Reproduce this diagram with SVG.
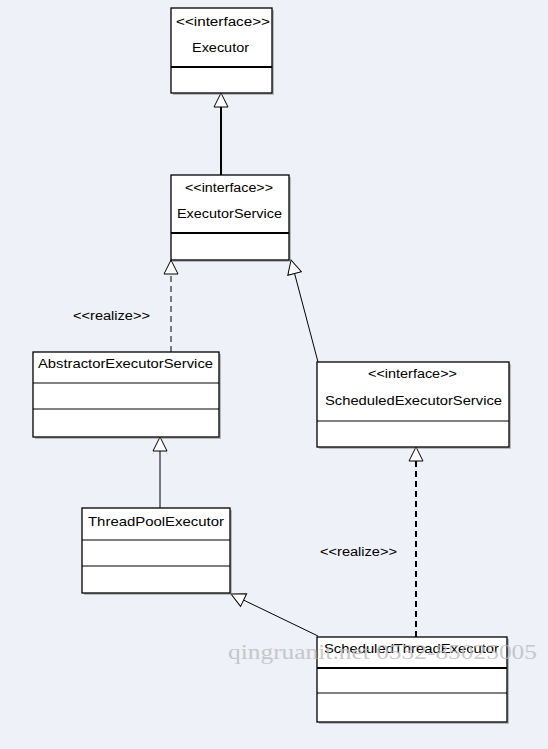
<svg xmlns="http://www.w3.org/2000/svg" width="548" height="749" viewBox="0 0 548 749">
<style>
.bg{fill:#eef1f8}
.box{fill:#ffffff;stroke:#000;stroke-width:1.3}
.sh{fill:#8a8a8a;opacity:0.55}
.div{stroke:#000;stroke-width:1}
.divb{stroke:#000;stroke-width:2}
.t{font-family:"Liberation Sans",Arial,sans-serif;font-size:13.5px;fill:#000;text-anchor:middle}
.st{font-family:"Liberation Sans",Arial,sans-serif;font-size:12.5px;fill:#000;text-anchor:middle}
.lbl{font-family:"Liberation Sans",Arial,sans-serif;font-size:12.5px;fill:#000}
.c{fill:none;stroke:#000;stroke-width:1}
.thick{stroke-width:2}
.dash{stroke-dasharray:6,4}
.wm{font-family:"Liberation Serif","Times New Roman",serif;font-size:20px;fill:#bdbdbd;opacity:0.8}
</style>
<defs>
<marker id="tri" markerUnits="userSpaceOnUse" markerWidth="18" markerHeight="18" viewBox="-1 -9 17 18" refX="14" refY="0" orient="auto">
<path d="M0,-7 L14,0 L0,7 Z" fill="#fff" stroke="#000" stroke-width="1"/>
</marker>
</defs>
<rect class="bg" x="0" y="0" width="548" height="749"/>
<g id="connectors">
<line class="c thick" x1="221" y1="175" x2="221" y2="93" marker-end="url(#tri)"/>
<line class="c dash" x1="171" y1="352" x2="171" y2="260" marker-end="url(#tri)"/>
<line class="c" x1="318" y1="362" x2="291" y2="260" marker-end="url(#tri)"/>
<line class="c" x1="160" y1="508" x2="160" y2="437" marker-end="url(#tri)"/>
<line class="c thick dash" x1="416" y1="637" x2="416" y2="447" marker-end="url(#tri)"/>
<line class="c" x1="318" y1="636" x2="231" y2="594" marker-end="url(#tri)"/>
<text class="lbl" x="73" y="320" textLength="77" lengthAdjust="spacingAndGlyphs">&lt;&lt;realize&gt;&gt;</text>
<text class="lbl" x="320" y="556" textLength="77" lengthAdjust="spacingAndGlyphs">&lt;&lt;realize&gt;&gt;</text>
</g>
<g id="Executor">
<rect class="sh" x="173" y="10" width="101" height="85"/>
<rect class="box" x="171" y="8" width="101" height="85"/>
<line class="divb" x1="171" y1="67" x2="272" y2="67"/>
<text class="st" x="223" y="26" textLength="94" lengthAdjust="spacingAndGlyphs">&lt;&lt;interface&gt;&gt;</text>
<text class="t" x="220.5" y="52" textLength="57" lengthAdjust="spacingAndGlyphs">Executor</text>
</g>
<g id="ExecutorService">
<rect class="sh" x="173" y="177" width="118" height="85"/>
<rect class="box" x="171" y="175" width="118" height="85"/>
<line class="divb" x1="171" y1="233" x2="289" y2="233"/>
<text class="st" x="229" y="192" textLength="88" lengthAdjust="spacingAndGlyphs">&lt;&lt;interface&gt;&gt;</text>
<text class="t" x="229.5" y="218" textLength="105" lengthAdjust="spacingAndGlyphs">ExecutorService</text>
</g>
<g id="AbstractorExecutorService">
<rect class="sh" x="35" y="354" width="186" height="85"/>
<rect class="box" x="33" y="352" width="186" height="85"/>
<line class="div" x1="33" y1="383" x2="219" y2="383"/>
<line class="div" x1="33" y1="409" x2="219" y2="409"/>
<text class="t" x="125.5" y="368" textLength="175" lengthAdjust="spacingAndGlyphs">AbstractorExecutorService</text>
</g>
<g id="ScheduledExecutorService">
<rect class="sh" x="319" y="364" width="192" height="85"/>
<rect class="box" x="317" y="362" width="192" height="85"/>
<line class="div" x1="317" y1="421" x2="509" y2="421"/>
<text class="st" x="412.5" y="378" textLength="89" lengthAdjust="spacingAndGlyphs">&lt;&lt;interface&gt;&gt;</text>
<text class="t" x="413.5" y="405" textLength="177" lengthAdjust="spacingAndGlyphs">ScheduledExecutorService</text>
</g>
<g id="ThreadPoolExecutor">
<rect class="sh" x="84" y="510" width="148" height="85"/>
<rect class="box" x="82" y="508" width="148" height="85"/>
<line class="div" x1="82" y1="540" x2="230" y2="540"/>
<line class="div" x1="82" y1="566" x2="230" y2="566"/>
<text class="t" x="156" y="526" textLength="136" lengthAdjust="spacingAndGlyphs">ThreadPoolExecutor</text>
</g>
<g id="ScheduledThreadExecutor">
<rect class="sh" x="319" y="639" width="190" height="85"/>
<rect class="box" x="317" y="637" width="190" height="85"/>
<line class="divb" x1="317" y1="668" x2="507" y2="668"/>
<line class="div" x1="317" y1="693" x2="507" y2="693"/>
<text class="t" x="411.5" y="653" textLength="175" lengthAdjust="spacingAndGlyphs">ScheduledThreadExecutor</text>
</g>
<text class="wm" x="228" y="659" textLength="309" lengthAdjust="spacingAndGlyphs">qingruanit.net 0532-85025005</text>
</svg>
